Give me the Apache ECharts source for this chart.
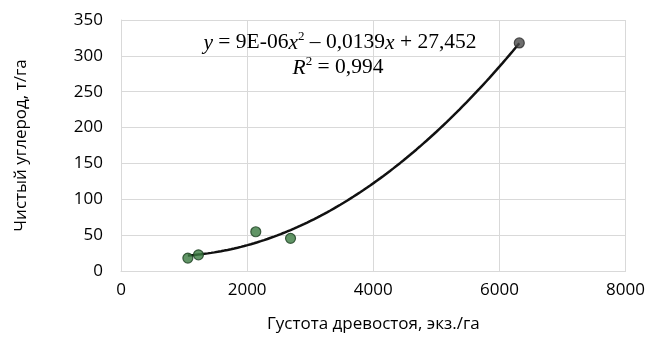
<!DOCTYPE html>
<html><head><meta charset="utf-8">
<script src="https://cdn.jsdelivr.net/npm/echarts@6/dist/echarts.min.js"></script>
<style>html,body{margin:0;padding:0;background:#fff}#c{width:648px;height:338px}</style>
</head><body><div id="c"></div>
<script>
// Data
const densityX = [1060, 1228, 2137, 2688, 6315];   // Густота древостоя, экз./га
const carbonY  = [18, 22.5, 54.7, 45.5, 318];       // Чистый углерод, т/га
const xTicks = [0, 2000, 4000, 6000, 8000];
const yTicks = [0, 50, 100, 150, 200, 250, 300, 350];
const eqLine1 = '{i|y} = 9E-06{i|x}{s|2} – 0,0139{i|x} + 27,452';
const eqLine2 = '{i|R}{s|2} = 0,994';

// Least squares quadratic trendline from the data points
function fitQuad(xs, ys) {
  let S = [0,0,0,0,0], T = [0,0,0];
  for (let k = 0; k < xs.length; k++) {
    let p = 1;
    for (let j = 0; j < 5; j++) { S[j] += p; if (j < 3) T[j] += p * ys[k]; p *= xs[k]; }
  }
  const A = [[S[0],S[1],S[2],T[0]],[S[1],S[2],S[3],T[1]],[S[2],S[3],S[4],T[2]]];
  for (let i = 0; i < 3; i++) {
    for (let r = i + 1; r < 3; r++) {
      const f = A[r][i] / A[i][i];
      for (let c = i; c < 4; c++) A[r][c] -= f * A[i][c];
    }
  }
  const s = [0,0,0];
  for (let i = 2; i >= 0; i--) {
    let v = A[i][3];
    for (let c = i + 1; c < 3; c++) v -= A[i][c] * s[c];
    s[i] = v / A[i][i];
  }
  return s;
}
const coef = fitQuad(densityX, carbonY);
const xmin = Math.min(...densityX), xmax = Math.max(...densityX);
const trend = [];
for (let k = 0; k <= 100; k++) {
  const x = xmin + (xmax - xmin) * k / 100;
  trend.push([x, coef[0] + coef[1] * x + coef[2] * x * x]);
}
const pts = densityX.map((x, i) => ({
  value: [x, carbonY[i]],
  itemStyle: i === densityX.length - 1 ? {color: '#4a4a4a', borderColor: '#2a2a2a'} : {color: '#3a7a40', borderColor: '#1d3f22'}
}));

const chart = echarts.init(document.getElementById('c'), null, {renderer: 'canvas'});
const labelFont = {fontFamily: 'Open Sans', fontSize: 17, color: '#000', formatter: v => String(v)};
const FS = 21.5;
const richStyle = {
  i: {fontStyle: 'italic', fontFamily: 'Liberation Serif', fontSize: FS, lineHeight: 24, verticalAlign: 'bottom'},
  s: {fontFamily: 'Liberation Serif', fontSize: 13, lineHeight: 13, verticalAlign: 'top'}
};
chart.setOption({
  animation: false,
  grid: {left: 121, right: 19, top: 20, bottom: 65},
  xAxis: {
    type: 'value', min: xTicks[0], max: xTicks[xTicks.length - 1], interval: xTicks[1] - xTicks[0],
    name: 'Густота древостоя, экз./га', nameLocation: 'middle', nameGap: 45,
    nameTextStyle: {fontFamily: 'Open Sans', fontSize: 17, color: '#000'},
    axisLine: {show: true, lineStyle: {color: '#d9d9d9'}},
    axisTick: {show: false},
    axisLabel: Object.assign({}, labelFont, {margin: 11}),
    splitLine: {show: true, lineStyle: {color: '#d9d9d9'}}
  },
  yAxis: {
    type: 'value', min: yTicks[0], max: yTicks[yTicks.length - 1], interval: yTicks[1] - yTicks[0],
    name: 'Чистый углерод, т/га', nameLocation: 'middle', nameGap: 91, nameRotate: 90,
    nameTextStyle: {fontFamily: 'Open Sans', fontSize: 17, color: '#000'},
    axisLine: {show: true, lineStyle: {color: '#d9d9d9'}},
    axisTick: {show: false},
    axisLabel: Object.assign({}, labelFont, {margin: 18}),
    splitLine: {show: true, lineStyle: {color: '#d9d9d9'}}
  },
  series: [
    {type: 'line', data: trend, showSymbol: false, smooth: false,
     lineStyle: {color: '#111', width: 2.5}, z: 2},
    {type: 'scatter', data: pts, symbolSize: 10, itemStyle: {borderWidth: 1.2}, z: 3}
  ],
  graphic: [
    {type: 'text', x: 340, y: 42, z: 10,
     style: {text: eqLine1, fontFamily: 'Liberation Serif', fontSize: FS, lineHeight: 24, fill: '#000',
       align: 'center', verticalAlign: 'middle', rich: richStyle}},
    {type: 'text', x: 338, y: 67, z: 10,
     style: {text: eqLine2, fontFamily: 'Liberation Serif', fontSize: FS, lineHeight: 24, fill: '#000',
       align: 'center', verticalAlign: 'middle', rich: richStyle}}
  ]
});
</script></body></html>
